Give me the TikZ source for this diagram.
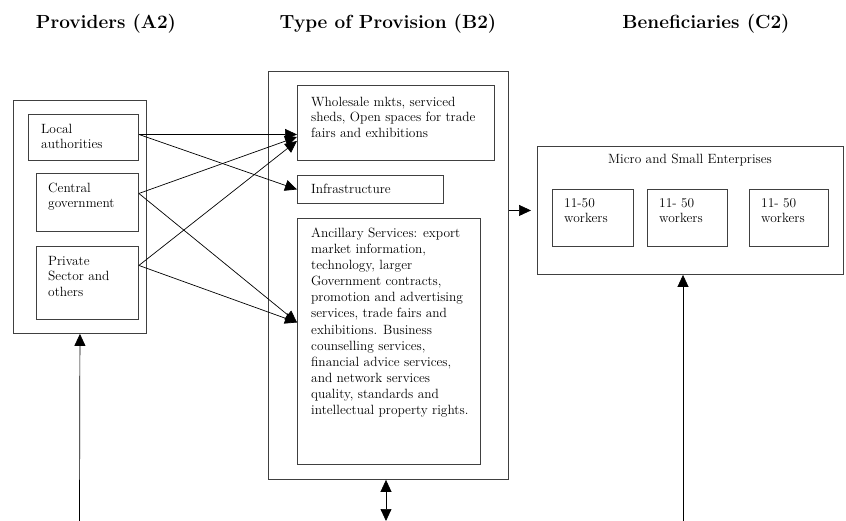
\documentclass[tikz,border=0pt]{standalone}
\usetikzlibrary{arrows.meta}
\begin{document}
\begin{tikzpicture}[x=1pt,y=-1pt]
	\tikzstyle{fleche}=[-{Triangle[length=12pt,width=11pt]},line width=0.7pt]
	\tikzstyle{flechedouble}=[{Triangle[length=12pt,width=11pt]}-{Triangle[length=12pt,width=11pt]},line width=0.7pt]
	\tikzstyle{boite}=[draw=black!75,line width=0.9pt,anchor=north west,inner sep=0pt]
	\tikzstyle{texte}=[anchor=north west,align=left,inner sep=0pt,font=\fontsize{13.4}{15.5}\selectfont]
	\tikzstyle{titre}=[anchor=base,font=\fontsize{19}{22}\selectfont\bfseries]
	\useasboundingbox (0,0) rectangle (846,521);
	% titres
	\node[titre] (tA) at (106,29) {Providers (A2)};
	\node[titre] (tB) at (388,29) {Type of Provision (B2)};
	\node[titre] (tC) at (706,29) {Beneficiaries (C2)};
	% fournisseurs
	\node[boite,minimum width=133pt,minimum height=233pt] (A) at (13,100) {};
	\node[boite,minimum width=110pt,minimum height=46pt] (Aa) at (28,114) {};
	\node[boite,minimum width=102pt,minimum height=58pt] (Ab) at (36,173) {};
	\node[boite,minimum width=102pt,minimum height=73pt] (Ac) at (36,246) {};
	\node[texte] (xAa) at (41,123.7) {Local\\authorities};
	\node[texte] (xAb) at (48,182.7) {Central\\government};
	\node[texte] (xAc) at (48,255.7) {Private\\Sector and\\others};
	% type de prestation
	\node[boite,minimum width=240pt,minimum height=408pt] (B) at (268,71) {};
	\node[boite,minimum width=197pt,minimum height=75pt] (Ba) at (297,85) {};
	\node[boite,minimum width=146pt,minimum height=28pt] (Bb) at (297,175) {};
	\node[boite,minimum width=183pt,minimum height=246pt] (Bc) at (297,218) {};
	\node[texte] (xBa) at (311,96.7) {Wholesale mkts, serviced\\sheds, Open spaces for trade\\fairs and exhibitions};
	\node[texte] (xBb) at (311,183.7) {Infrastructure};
	\node[texte,font=\fontsize{13.4}{16.1}\selectfont] (xBc) at (311,227.7) {Ancillary Services: export\\market information,\\technology, larger\\Government contracts,\\promotion and advertising\\services, trade fairs and\\exhibitions. Business\\counselling services,\\financial advice services,\\and network services\\quality, standards and\\intellectual property rights.};
	% beneficiaires
	\node[boite,minimum width=306pt,minimum height=128pt] (C) at (537,146) {};
	\node[texte,anchor=base] (xC) at (690,164) {Micro and Small Enterprises};
	\node[boite,minimum width=81pt,minimum height=57pt] (Ca) at (552,189) {};
	\node[boite,minimum width=80pt,minimum height=57pt] (Cb) at (647,189) {};
	\node[boite,minimum width=79pt,minimum height=57pt] (Cc) at (749,189) {};
	\node[texte] (xCa) at (564,198.3) {11-50\\workers};
	\node[texte] (xCb) at (659,198.3) {11- 50\\workers};
	\node[texte] (xCc) at (761,198.3) {11- 50\\workers};
	% departs et arrivees des fleches
	\coordinate (dAa) at ([yshift=3pt]Aa.east);
	\coordinate (dAb) at ([yshift=9pt]Ab.east);
	\coordinate (dAc) at ([yshift=17.5pt]Ac.east);
	\coordinate (aBb) at ([yshift=-14pt]Ba.west);
	\coordinate (aBc) at ([yshift=-18pt]Ba.west);
	\coordinate (aBd) at ([yshift=19pt]Bc.west);
	\coordinate (pA) at (79.5,521);
	\coordinate (pB) at (386,521);
	\coordinate (pC) at (683,521);
	% fleches
	\draw[fleche] (dAa) -- (Ba.west |- dAa);
	\draw[fleche] (dAa) -- (Bb.west);
	\draw[fleche] (dAb) -- (aBb);
	\draw[fleche] (dAb) -- (aBd);
	\draw[fleche] (dAc) -- (aBc);
	\draw[fleche] (dAc) -- (aBd);
	\draw[fleche,shorten >=6pt] (B.east |- C.west) -- (C.west);
	\draw[fleche] (pA) -- (A.south);
	\draw[flechedouble] (B.south -| pB) -- (pB);
	\draw[fleche] (pC) -- (pC |- C.south);
\end{tikzpicture}
\end{document}
